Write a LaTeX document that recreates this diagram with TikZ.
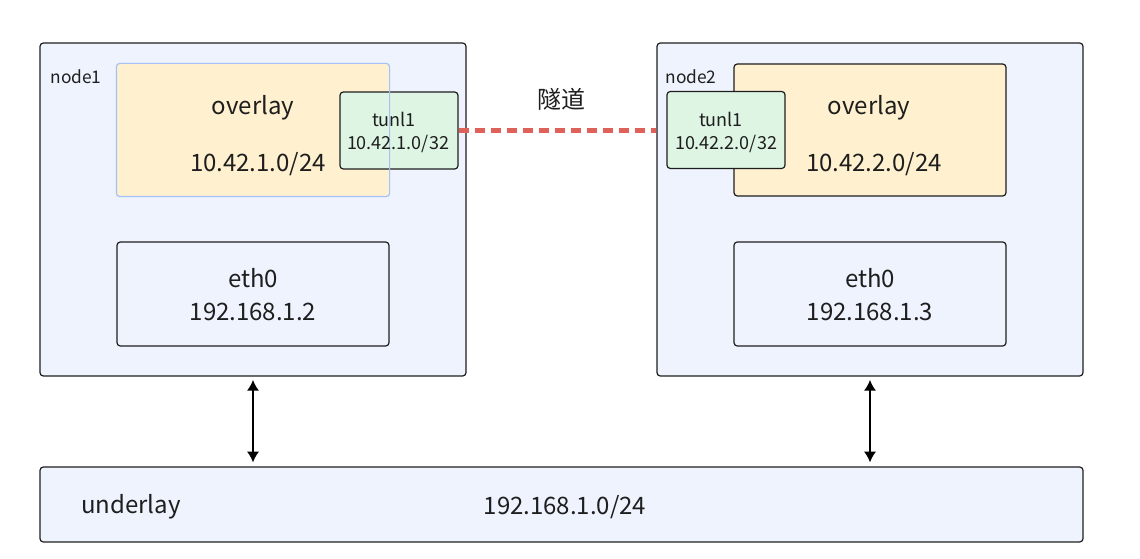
\documentclass[tikz,border=0pt]{standalone}
\usepackage{fontspec}
\setmainfont{Noto Sans CJK SC}
\usetikzlibrary{positioning,arrows.meta}
\definecolor{hostbg}{HTML}{EEF3FD}
\definecolor{ovbg}{HTML}{FFF0CF}
\definecolor{tunbg}{HTML}{DEF5E3}
\definecolor{boxline}{HTML}{1E1E1E}
\definecolor{selblue}{HTML}{A6C2F4}
\definecolor{tunred}{HTML}{E0605A}
\begin{document}
\begin{tikzpicture}[x=0.75pt, y=-0.75pt,
  box/.style={draw=boxline, line width=0.9pt, rounded corners=2.5pt, inner sep=0pt},
  host/.style={box, fill=hostbg, minimum width=319.5pt, minimum height=249.75pt},
  ovbox/.style={box, fill=ovbg, minimum width=204pt, minimum height=99pt},
  tunbox/.style={box, fill=tunbg, minimum width=88.5pt, minimum height=57.75pt},
  ethbox/.style={box, fill=hostbg, minimum width=204pt, minimum height=78pt},
  big/.style={font=\fontsize{18}{21}\selectfont, text=boxline},
  small/.style={font=\fontsize{13.5}{15}\selectfont, text=boxline},
  tiny/.style={font=\fontsize{13.5}{15}\selectfont, text=boxline},
  lbl/.style={font=\fontsize{13}{15}\selectfont, text=boxline},
  link/.style={{Latex[length=8pt,width=9pt]}-{Latex[length=8pt,width=9pt]}, line width=1.1pt}]
\useasboundingbox (0,0) rectangle (1140,559);

% hosts
\node[host] (node1) at (253,209.5) {};
\node[host] (node2) at (870,209.5) {};
\node[lbl] (n1lbl) at (76,77) {node1};
\node[lbl] (n2lbl) at (691,77) {node2};

% overlay + tunnel devices
\node[ovbox, draw=none] (ov1) at (253,130) {};
\node[ovbox] (ov2) at (870,130) {};
\node[tunbox] (tun1) at (399,130.5) {};
\node[tunbox] (tun2) at (726,130) {};
\draw[selblue, line width=0.9pt, rounded corners=2.5pt] (ov1.north west) rectangle (ov1.south east);

\node[big] (ov1a) at (253,108) {overlay};
\node[big] (ov1b) at (258,164) {10.42.1.0/24};
\node[big] (ov2a) at (869,108) {overlay};
\node[big] (ov2b) at (874,164) {10.42.2.0/24};
\node[small] (tun1a) at (394,119) {tunl1};
\node[tiny] (tun1b) at (398,144) {10.42.1.0/32};
\node[small] (tun2a) at (721,119) {tunl1};
\node[tiny] (tun2b) at (726,144) {10.42.2.0/32};

% physical nics
\node[ethbox] (eth1) at (253,294) {};
\node[ethbox] (eth2) at (870,294) {};
\node[big] (eth1a) at (253,278) {eth0};
\node[big] (eth1b) at (253,312) {192.168.1.2};
\node[big] (eth2a) at (870,278) {eth0};
\node[big] (eth2b) at (870,312) {192.168.1.3};

% underlay network
\node[box, fill=hostbg, minimum width=782.25pt, minimum height=56.25pt] (under) at (561.5,504.5) {};
\node[big] (undera) at (131,507) {underlay};
\node[big] (underb) at (565,507) {192.168.1.0/24};

% tunnel
\draw[tunred, line width=4pt, dash pattern=on 7.5pt off 4.5pt] (tun1.east) -- (tun1.east -| node2.west);
\node[big] (tunlbl) at (561,99) {隧道};

\draw[link] ([yshift=-2.5pt]eth1 |- node1.south) -- ([yshift=3pt]eth1 |- under.north);
\draw[link] ([yshift=-2.5pt]eth2 |- node2.south) -- ([yshift=3pt]eth2 |- under.north);
\end{tikzpicture}
\end{document}
